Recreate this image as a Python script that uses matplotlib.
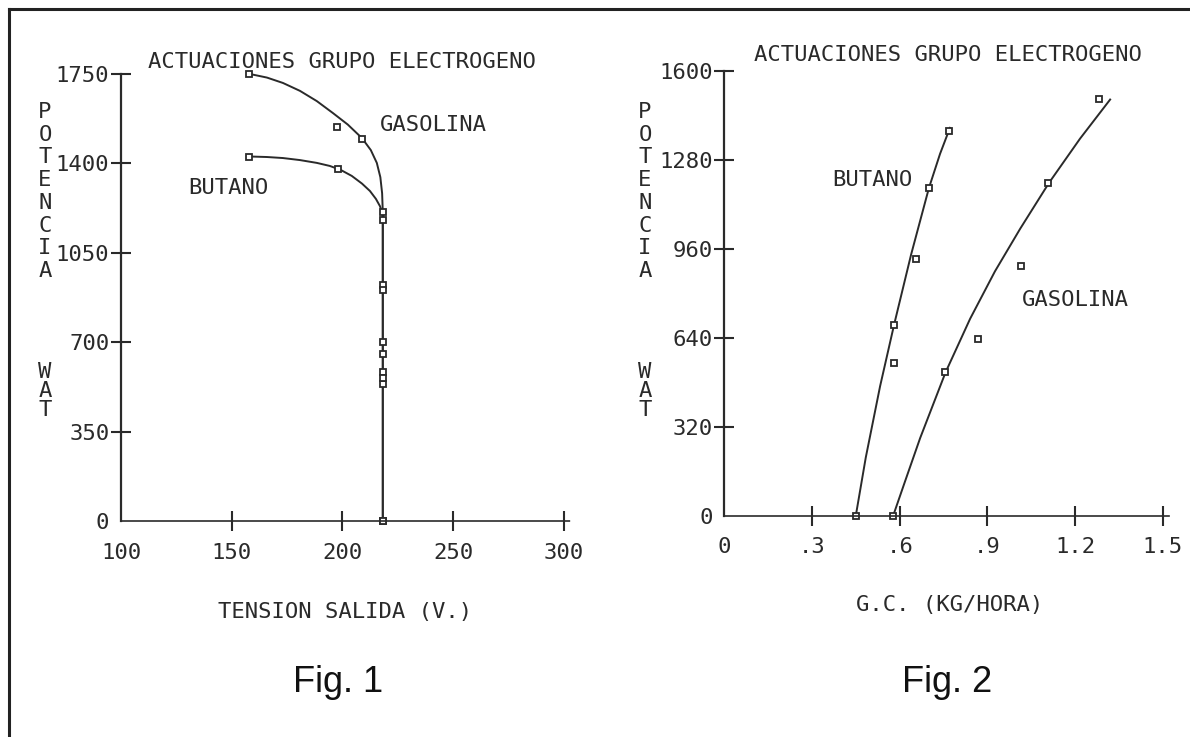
import matplotlib
matplotlib.use("Agg")
import matplotlib.pyplot as plt
from matplotlib.lines import Line2D

plt.rcParams['font.family'] = ['DejaVu Sans Mono']
INK = '#2a2a2a'
FS = 16

# FIG 1 : potencia vs tension salida
v_ticks = [100, 150, 200, 250, 300]
p1_ticks = [0, 350, 700, 1050, 1400, 1750]

gas1_v = [158, 197.5, 209, 218.2, 218.2, 218.2, 218.2, 218.2, 218.2]
gas1_p = [1750, 1541, 1497, 1210, 925, 700, 583, 536, 0]
but1_v = [158, 198, 218.2, 218.2, 218.2, 218.2, 218.2]
but1_p = [1425, 1380, 1178, 905, 655, 560, 0]

# curves as traced on the plot
gas1_curve_v = [158.2, 165.9, 173.1, 180.8, 188.4, 195.7, 202.4, 208.8, 212.8,
                215.5, 217.1, 217.9, 218.2, 218.2]
gas1_curve_p = [1750, 1736, 1715, 1684, 1644, 1597, 1552, 1499, 1452,
                1402, 1346, 1283, 1210, 0]
but1_curve_v = [158.2, 165.9, 173.1, 180.8, 188.4, 194.3, 199.3, 204.2, 208.8,
                212.4, 215.1, 216.9, 218.2, 218.2]
but1_curve_p = [1427, 1425, 1421, 1413, 1402, 1390, 1374, 1351, 1321,
                1292, 1261, 1233, 1202, 0]

# FIG 2 : potencia vs consumo
gc_ticks = [0, 0.3, 0.6, 0.9, 1.2, 1.5]
gc_labels = ["0", ".3", ".6", ".9", "1.2", "1.5"]
p2_ticks = [0, 320, 640, 960, 1280, 1600]

but2_gc = [0.45, 0.58, 0.58, 0.655, 0.70, 0.77]
but2_p = [0, 549, 687, 924, 1180, 1384]
gas2_gc = [0.578, 0.755, 0.867, 1.014, 1.108, 1.283]
gas2_p = [0, 516, 635, 900, 1198, 1500]

but2_curve_gc = [0.450, 0.484, 0.533, 0.581, 0.639, 0.700, 0.738, 0.772]
but2_curve_p = [0, 209, 466, 688, 940, 1180, 1303, 1397]
gas2_curve_gc = [0.578, 0.618, 0.670, 0.757, 0.841, 0.926, 1.012, 1.111, 1.217, 1.320]
gas2_curve_p = [0, 122, 279, 516, 709, 880, 1033, 1199, 1358, 1499]

W, H = 1190, 737
fig = plt.figure(figsize=(W / 100, H / 100), dpi=100)
fig.patch.set_facecolor('white')


def px_axes(x0, y0, x1, y1):
    # pixel box (top-left origin) -> axes
    return fig.add_axes([x0 / W, 1 - y1 / H, (x1 - x0) / W, (y1 - y0) / H])


def style(ax):
    for s in ['top', 'right']:
        ax.spines[s].set_visible(False)
    ax.spines['left'].set_linewidth(1.6)
    ax.spines['left'].set_color(INK)
    ax.spines['bottom'].set_linestyle((0, (1, 1)))
    ax.spines['bottom'].set_linewidth(1.2)
    ax.spines['bottom'].set_color(INK)
    ax.tick_params(direction='inout', length=15, width=1.5, color=INK,
                   labelsize=FS, labelcolor=INK)
    ax.tick_params(axis='y', pad=1)
    ax.tick_params(axis='x', pad=8)
    ax.patch.set_alpha(0)


def stacked(x, y, word, spacing):
    fig.text(x / W, 1 - y / H, "\n".join(word), ha='center', va='top',
             fontsize=FS, color=INK, linespacing=spacing)


# ---- Fig 1
ax1 = px_axes(121, 74, 570.6, 521)
ax1.set_xlim(100, 303)
ax1.set_ylim(0, 1750)
style(ax1)
ax1.set_xticks(v_ticks)
ax1.set_xticklabels([str(v) for v in v_ticks])
ax1.set_yticks(p1_ticks)
ax1.set_yticklabels([str(p) for p in p1_ticks])
ax1.xaxis.get_major_ticks()[0].tick1line.set_visible(False)
ax1.yaxis.get_major_ticks()[0].tick1line.set_visible(False)
ax1.plot(gas1_curve_v, gas1_curve_p, color=INK, lw=1.4, clip_on=False)
ax1.plot(but1_curve_v, but1_curve_p, color=INK, lw=1.4, clip_on=False)
ax1.plot(gas1_v, gas1_p, 's', ms=5, mfc='white', mec=INK, mew=1.3, clip_on=False)
ax1.plot(but1_v, but1_p, 's', ms=5, mfc='white', mec=INK, mew=1.3, clip_on=False)
ax1.text(112.2, 1797, "ACTUACIONES GRUPO ELECTROGENO", ha='left', va='center',
         fontsize=FS, color=INK, clip_on=False)
ax1.text(216.9, 1550, "GASOLINA", ha='left', va='center', fontsize=FS, color=INK)
ax1.text(130.2, 1304, "BUTANO", ha='left', va='center', fontsize=FS, color=INK)
fig.text(345 / W, 1 - 612 / H, "TENSION SALIDA (V.)", ha='center', va='center',
         fontsize=FS, color=INK)
stacked(45, 102, "POTENCIA", 1.17)
stacked(45, 362, "WAT", 0.94)

# ---- Fig 2
ax2 = px_axes(724.3, 71.5, 1168.6, 515.5)
ax2.set_xlim(0, 1.52)
ax2.set_ylim(0, 1600)
style(ax2)
ax2.set_xticks(gc_ticks)
ax2.set_xticklabels(gc_labels)
ax2.set_yticks(p2_ticks)
ax2.set_yticklabels([str(p) for p in p2_ticks])
ax2.xaxis.get_major_ticks()[0].tick1line.set_visible(False)
ax2.yaxis.get_major_ticks()[0].tick1line.set_visible(False)
ax2.plot(but2_curve_gc, but2_curve_p, color=INK, lw=1.4, clip_on=False)
ax2.plot(gas2_curve_gc, gas2_curve_p, color=INK, lw=1.4, clip_on=False)
ax2.plot(but2_gc, but2_p, 's', ms=5, mfc='white', mec=INK, mew=1.3, clip_on=False)
ax2.plot(gas2_gc, gas2_p, 's', ms=5, mfc='white', mec=INK, mew=1.3, clip_on=False)
ax2.text(0.1016, 1660, "ACTUACIONES GRUPO ELECTROGENO", ha='left', va='center',
         fontsize=FS, color=INK, clip_on=False)
ax2.text(0.371, 1209, "BUTANO", ha='left', va='center', fontsize=FS, color=INK)
ax2.text(1.019, 777, "GASOLINA", ha='left', va='center', fontsize=FS, color=INK)
fig.text(950 / W, 1 - 605 / H, "G.C. (KG/HORA)", ha='center', va='center',
         fontsize=FS, color=INK)
stacked(645, 102, "POTENCIA", 1.17)
stacked(645, 362, "WAT", 0.94)

# captions
fig.text(338 / W, 1 - 683 / H, "Fig. 1", ha='center', va='center',
         fontsize=26, family='Liberation Sans', color='#111111')
fig.text(947 / W, 1 - 683 / H, "Fig. 2", ha='center', va='center',
         fontsize=26, family='Liberation Sans', color='#111111')

# page frame (top and left edges)
fig.add_artist(Line2D([9 / W, 1], [1 - 9 / H, 1 - 9 / H], color='#222222', lw=2.2))
fig.add_artist(Line2D([9 / W, 9 / W], [0, 1 - 9 / H], color='#222222', lw=2.2))

fig.savefig("out.png", dpi=100, facecolor='white')
